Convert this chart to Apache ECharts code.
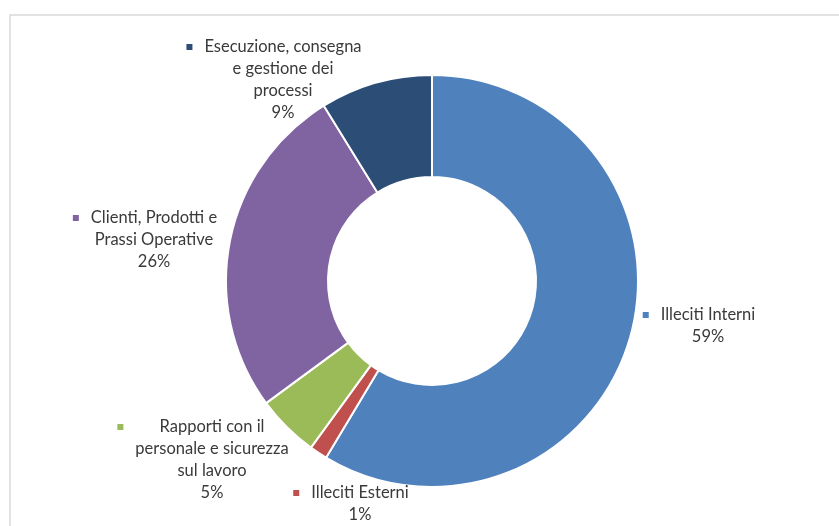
<!DOCTYPE html>
<html>
<head>
<meta charset="utf-8">
<script src="https://cdn.jsdelivr.net/npm/echarts@6/dist/echarts.min.js"></script>
<style>
html,body{margin:0;padding:0;background:#fff;}
#chart{width:839px;height:526px;}
</style>
</head>
<body>
<div id="chart"></div>
<script>
// Data
var categories = [
  'Illeciti Interni',
  'Illeciti Esterni',
  'Rapporti con il\npersonale e sicurezza\nsul lavoro',
  'Clienti, Prodotti e\nPrassi Operative',
  'Esecuzione, consegna\ne gestione dei\nprocessi'
];
var values = [58.6, 1.4, 4.9, 26.3, 8.8];
var colors = ['#4F81BD', '#C0504D', '#9BBB59', '#8064A2', '#2C4D75'];

// Label anchor (center of the text block) per slice
var labelPos = [
  [708, 326],
  [360, 504],
  [212, 460],
  [154, 240],
  [283, 80]
];

var chart = echarts.init(document.getElementById('chart'), null, {renderer: 'canvas'});

var rich = {
  t: {},
  g: { width: 12, fontSize: 1, align: 'left' },
  r: { width: 18, fontSize: 1, align: 'right' },
  s: { width: 18, fontSize: 1 }
};
colors.forEach(function (c, i) {
  rich['m' + i] = { width: 6, height: 6, backgroundColor: c, fontSize: 1, align: 'left' };
});

var data = categories.map(function (name, i) {
  return { name: name, value: values[i], itemStyle: { color: colors[i] } };
});

chart.setOption({
  animation: false,
  backgroundColor: '#ffffff',
  graphic: [{
    type: 'rect',
    shape: { x: 10, y: 15, width: 900, height: 600 },
    style: { fill: 'none', stroke: '#d9d9d9', lineWidth: 1.5 },
    silent: true
  }],
  series: [{
    type: 'pie',
    center: [432, 281],
    radius: [104, 206],
    startAngle: 90,
    clockwise: true,
    avoidLabelOverlap: false,
    percentPrecision: 0,
    data: data,
    itemStyle: { borderColor: '#ffffff', borderWidth: 2 },
    labelLine: { show: false },
    label: {
      show: true,
      position: 'outside',
      color: '#3a3a3a',
      fontFamily: 'Lato',
      fontSize: 16.5,
      lineHeight: 22,
      align: 'center',
      rich: rich,
      formatter: function (p) {
        var lines = p.name.split('\n');
        var first = '{m' + p.dataIndex + '|\u00a0}{g|\u00a0}{t|' + lines[0] + '}{r|\u00a0}';
        var rest = lines.slice(1);
        rest.push(p.percent + '%');
        rest = rest.map(function (l) { return '{s|\u00a0}{t|' + l + '}{s|\u00a0}'; });
        return [first].concat(rest).join('\n');
      }
    },
    labelLayout: function (params) {
      var pos = labelPos[params.dataIndex];
      return { x: pos[0], y: pos[1], align: 'center', verticalAlign: 'middle' };
    }
  }]
});
</script>
</body>
</html>
